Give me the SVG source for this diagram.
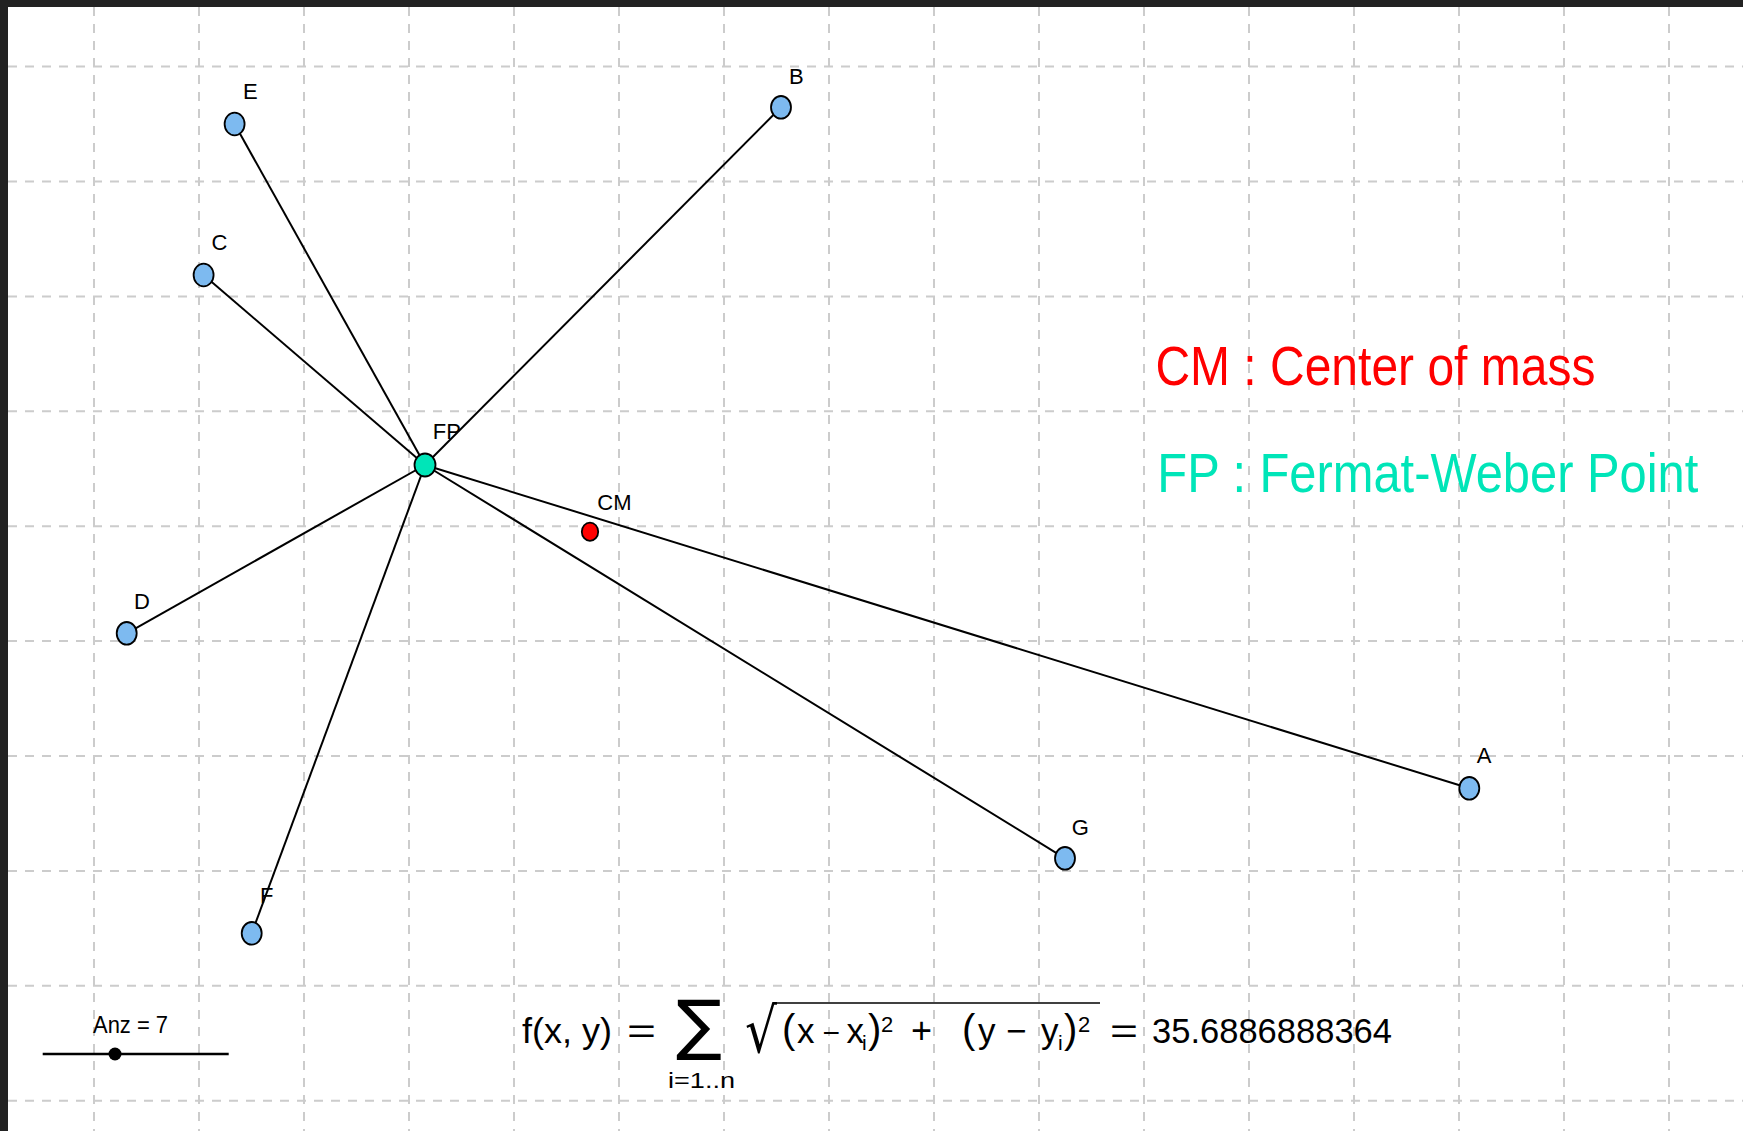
<svg xmlns="http://www.w3.org/2000/svg" width="1743" height="1131" viewBox="0 0 1743 1131">
<style>
.grid line{stroke:#cccccc;stroke-width:2;stroke-dasharray:9 8}
.edge{stroke:#000;stroke-width:2}
.pt{fill:#7dbaf0;stroke:#000;stroke-width:1.8}
.lbl{font-family:"Liberation Sans",Arial,sans-serif;font-size:22px;fill:#000}
.math{font-family:"Liberation Sans",Arial,sans-serif;font-size:35px;fill:#000}
.leg{font-family:"Liberation Sans",Arial,sans-serif;font-size:50px}
</style>
<rect x="0" y="0" width="1743" height="1131" fill="#ffffff"/>
<rect x="0" y="0" width="1743" height="7" fill="#222222"/>
<rect x="0" y="0" width="8" height="1131" fill="#222222"/>
<g class="grid">
<line x1="94" y1="7" x2="94" y2="1131"/>
<line x1="199" y1="7" x2="199" y2="1131"/>
<line x1="304" y1="7" x2="304" y2="1131"/>
<line x1="409" y1="7" x2="409" y2="1131"/>
<line x1="514" y1="7" x2="514" y2="1131"/>
<line x1="619" y1="7" x2="619" y2="1131"/>
<line x1="724" y1="7" x2="724" y2="1131"/>
<line x1="829" y1="7" x2="829" y2="1131"/>
<line x1="934" y1="7" x2="934" y2="1131"/>
<line x1="1039" y1="7" x2="1039" y2="1131"/>
<line x1="1144" y1="7" x2="1144" y2="1131"/>
<line x1="1249" y1="7" x2="1249" y2="1131"/>
<line x1="1354" y1="7" x2="1354" y2="1131"/>
<line x1="1459" y1="7" x2="1459" y2="1131"/>
<line x1="1564" y1="7" x2="1564" y2="1131"/>
<line x1="1669" y1="7" x2="1669" y2="1131"/>
<line x1="8" y1="66.6" x2="1743" y2="66.6"/>
<line x1="8" y1="181.5" x2="1743" y2="181.5"/>
<line x1="8" y1="296.4" x2="1743" y2="296.4"/>
<line x1="8" y1="411.3" x2="1743" y2="411.3"/>
<line x1="8" y1="526.2" x2="1743" y2="526.2"/>
<line x1="8" y1="641.1" x2="1743" y2="641.1"/>
<line x1="8" y1="756" x2="1743" y2="756"/>
<line x1="8" y1="870.9" x2="1743" y2="870.9"/>
<line x1="8" y1="985.8" x2="1743" y2="985.8"/>
<line x1="8" y1="1100.7" x2="1743" y2="1100.7"/>
</g>
<g id="connectors">
<line class="edge" x1="425" y1="465" x2="1469.3" y2="788.3"/>
<line class="edge" x1="425" y1="465" x2="781" y2="107.3"/>
<line class="edge" x1="425" y1="465" x2="203.6" y2="275"/>
<line class="edge" x1="425" y1="465" x2="126.7" y2="633.3"/>
<line class="edge" x1="425" y1="465" x2="234.6" y2="124"/>
<line class="edge" x1="425" y1="465" x2="251.7" y2="933.3"/>
<line class="edge" x1="425" y1="465" x2="1065" y2="858.3"/>
</g>
<g id="node-A"><ellipse class="pt" cx="1469.3" cy="788.3" rx="10" ry="11.3"/><text class="lbl" x="1476.7" y="763.3">A</text></g>
<g id="node-B"><ellipse class="pt" cx="781" cy="107.3" rx="10" ry="11.3"/><text class="lbl" x="789" y="84">B</text></g>
<g id="node-C"><ellipse class="pt" cx="203.6" cy="275" rx="10" ry="11.3"/><text class="lbl" x="211.6" y="250">C</text></g>
<g id="node-D"><ellipse class="pt" cx="126.7" cy="633.3" rx="10" ry="11.3"/><text class="lbl" x="134" y="609">D</text></g>
<g id="node-E"><ellipse class="pt" cx="234.6" cy="124" rx="10" ry="11.3"/><text class="lbl" x="243" y="99.3">E</text></g>
<g id="node-F"><ellipse class="pt" cx="251.7" cy="933.3" rx="10" ry="11.3"/><text class="lbl" x="260" y="903">F</text></g>
<g id="node-G"><ellipse class="pt" cx="1065" cy="858.3" rx="10" ry="11.3"/><text class="lbl" x="1071.7" y="835">G</text></g>
<g id="node-FP"><ellipse cx="425" cy="465" rx="10.5" ry="11.5" fill="#00e5b8" stroke="#000" stroke-width="1.8"/><text class="lbl" x="432.7" y="439.3">FP</text></g>
<g id="node-CM"><ellipse cx="590" cy="531.7" rx="8.2" ry="9.1" fill="#ff0000" stroke="#000" stroke-width="1.8"/><text class="lbl" x="597.3" y="510">CM</text></g>
<g id="legend">
<text class="leg" transform="translate(1155.4,385) scale(1,1.1)" x="0" y="0" fill="#ff0000" textLength="440" lengthAdjust="spacingAndGlyphs">CM : Center of mass</text>
<text class="leg" transform="translate(1157.3,491.7) scale(1,1.1)" x="0" y="0" fill="#00e5b8" textLength="541" lengthAdjust="spacingAndGlyphs">FP : Fermat-Weber Point</text>
</g>
<g id="slider">
<line x1="42.7" y1="1054" x2="228.7" y2="1054" stroke="#000" stroke-width="2.5"/>
<circle cx="115" cy="1054" r="6.5" fill="#000"/>
<text x="93" y="1033" font-family="'Liberation Sans',Arial,sans-serif" font-size="23" textLength="75" lengthAdjust="spacingAndGlyphs">Anz = 7</text>
</g>
<g id="formula">
<text class="math" x="522" y="1043" font-size="37" textLength="90" lengthAdjust="spacingAndGlyphs">f(x, y)</text>
<text class="math" x="627" y="1043" font-size="36" textLength="29" lengthAdjust="spacingAndGlyphs">=</text>
<text x="676" y="1047" font-family="'DejaVu Sans',sans-serif" font-size="66" textLength="46" lengthAdjust="spacingAndGlyphs">∑</text>
<text x="668" y="1088" font-family="'Liberation Sans',Arial,sans-serif" font-size="22" textLength="67" lengthAdjust="spacingAndGlyphs">i=1..n</text>
<text x="745" y="1052" font-family="'DejaVu Sans',sans-serif" font-size="62" textLength="32" lengthAdjust="spacingAndGlyphs">√</text>
<line x1="776" y1="1003" x2="1100" y2="1003" stroke="#000" stroke-width="1.6"/>
<text class="math"><tspan x="782" y="1043" font-size="40">(</tspan><tspan x="797" y="1043">x</tspan><tspan x="822.5" y="1043" font-size="30">−</tspan><tspan x="846.5" y="1043">x</tspan><tspan x="862" y="1050" font-size="21">i</tspan><tspan x="868" y="1043" font-size="40">)</tspan><tspan x="881" y="1032" font-size="22">2</tspan><tspan x="911" y="1043" font-size="36">+</tspan><tspan x="962" y="1043" font-size="40">(</tspan><tspan x="978" y="1043">y</tspan><tspan x="1006" y="1043">−</tspan><tspan x="1041" y="1043">y</tspan><tspan x="1058" y="1050" font-size="21">i</tspan><tspan x="1064" y="1043" font-size="40">)</tspan><tspan x="1078" y="1032" font-size="22">2</tspan></text>
<text class="math" x="1110" y="1043" font-size="36" textLength="28" lengthAdjust="spacingAndGlyphs">=</text>
<text class="math" x="1152" y="1043" font-size="35" textLength="240" lengthAdjust="spacingAndGlyphs">35.6886888364</text>
</g>
</svg>
